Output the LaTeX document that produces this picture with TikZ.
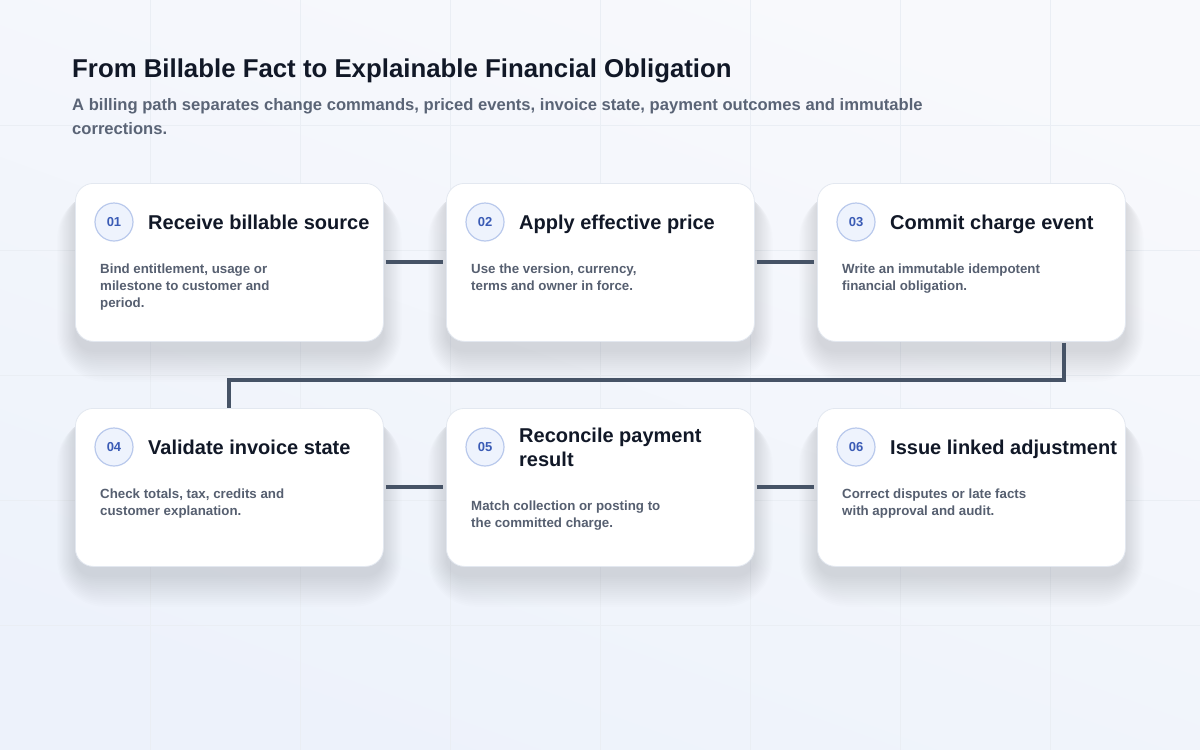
\documentclass[tikz,border=0pt]{standalone}
\usepackage{fontspec}
\setmainfont{Liberation Sans}
\usetikzlibrary{calc}
\definecolor{bgtop}{HTML}{F8F9FC}
\definecolor{bgbot}{HTML}{EDF2FB}
\definecolor{gridc}{HTML}{EAEEF4}
\definecolor{titlec}{HTML}{111827}
\definecolor{subc}{HTML}{5A6476}
\definecolor{bodyc}{HTML}{565F70}
\definecolor{numc}{HTML}{3A5BB5}
\definecolor{circfill}{HTML}{EEF3FD}
\definecolor{circline}{HTML}{B9C9EC}
\definecolor{cardline}{HTML}{E3E8F0}
\definecolor{linkc}{HTML}{465366}
\definecolor{shadowc}{HTML}{24305A}
\pgfdeclarelayer{bg}
\pgfdeclarelayer{shadow}
\pgfsetlayers{bg,shadow,main}
\tikzset{
  card/.style={rectangle, rounded corners=18pt, fill=white, draw=cardline, line width=0.8pt,
    minimum width=308pt, minimum height=158pt, anchor=north west, inner sep=0pt},
  numcirc/.style={circle, fill=circfill, draw=circline, line width=1.2pt, minimum size=38pt,
    inner sep=0pt, font=\fontsize{13}{13}\selectfont\bfseries, text=numc},
  cardtitle/.style={anchor=base west, inner sep=0pt, font=\fontsize{20}{24}\selectfont\bfseries,
    text=titlec, align=left},
  cardbody/.style={anchor=base west, inner sep=0pt, font=\fontsize{13.3}{16.7}\selectfont\bfseries,
    text=bodyc, align=left},
  link/.style={draw=linkc, line width=4pt}
}
\begin{document}
\begin{tikzpicture}[x=1pt,y=-1pt]
\useasboundingbox (0,0) rectangle (1200,750);
\begin{pgfonlayer}{bg}
\shade[top color=bgtop, bottom color=bgbot, shading angle=-20] (0,0) rectangle (1200,750);
\foreach \gx in {150,300,450,600,750,900,1050} \draw[gridc, line width=0.8pt] (\gx,0) -- (\gx,750);
\foreach \gy in {125,250,375,500,625} \draw[gridc, line width=0.8pt] (0,\gy) -- (1200,\gy);
\end{pgfonlayer}

\node[anchor=base west, inner sep=0pt, font=\fontsize{25.8}{30}\selectfont\bfseries, text=titlec] (title) at (72,77) {From Billable Fact to Explainable Financial Obligation};
\node[anchor=base west, inner sep=0pt, font=\fontsize{16.6}{24}\selectfont\bfseries, text=subc, align=left] (sub) at (72,134) {A billing path separates change commands, priced events, invoice state, payment outcomes and immutable\\corrections.};

% cards
\node[card] (c1) at (75,183) {};
\node[card] (c2) at (446,183) {};
\node[card] (c3) at (817,183) {};
\node[card] (c4) at (75,408) {};
\node[card] (c5) at (446,408) {};
\node[card] (c6) at (817,408) {};

% shadows
\begin{pgfonlayer}{shadow}
\foreach \c in {c1,c2,c3,c4,c5,c6}{
  \foreach \i in {0,2,...,30}{
    \fill[shadowc, opacity=0.007, rounded corners=18pt+\i pt]
      ($(\c.north west)+(-\i*0.6,8)$) rectangle ($(\c.south east)+(\i*0.6,10+\i)$);
  }
}
\end{pgfonlayer}

% connectors
\draw[link] ([xshift=2pt]c1.east) -- ([xshift=-3pt]c2.west);
\draw[link] ([xshift=2pt]c2.east) -- ([xshift=-3pt]c3.west);
\draw[link] ([xshift=2pt]c4.east) -- ([xshift=-3pt]c5.west);
\draw[link] ([xshift=2pt]c5.east) -- ([xshift=-3pt]c6.west);
\coordinate (bendA) at ($(c3.south east)+(-62,38)$);
\coordinate (bendB) at (c4.north |- bendA);
\draw[link] ($(c3.south east)+(-62,1)$) -- (bendA) -- (bendB) -- (c4.north);

% numbers
\node[numcirc] (n1) at (114,222) {01};
\node[numcirc] (n2) at (485,222) {02};
\node[numcirc] (n3) at (856,222) {03};
\node[numcirc] (n4) at (114,447) {04};
\node[numcirc] (n5) at (485,447) {05};
\node[numcirc] (n6) at (856,447) {06};

% titles
\node[cardtitle] (t1) at (148,229) {Receive billable source};
\node[cardtitle] (t2) at (519,229) {Apply effective price};
\node[cardtitle] (t3) at (890,229) {Commit charge event};
\node[cardtitle] (t4) at (148,454) {Validate invoice state};
\node[cardtitle] (t5) at (519,466) {Reconcile payment\\result};
\node[cardtitle] (t6) at (890,454) {Issue linked adjustment};

% bodies
\node[cardbody] (b1) at (100,307) {Bind entitlement, usage or\\milestone to customer and\\period.};
\node[cardbody] (b2) at (471,290.3) {Use the version, currency,\\terms and owner in force.};
\node[cardbody] (b3) at (842,290.3) {Write an immutable idempotent\\financial obligation.};
\node[cardbody] (b4) at (100,515.3) {Check totals, tax, credits and\\customer explanation.};
\node[cardbody] (b5) at (471,527) {Match collection or posting to\\the committed charge.};
\node[cardbody] (b6) at (842,515.3) {Correct disputes or late facts\\with approval and audit.};
\end{tikzpicture}
\end{document}
